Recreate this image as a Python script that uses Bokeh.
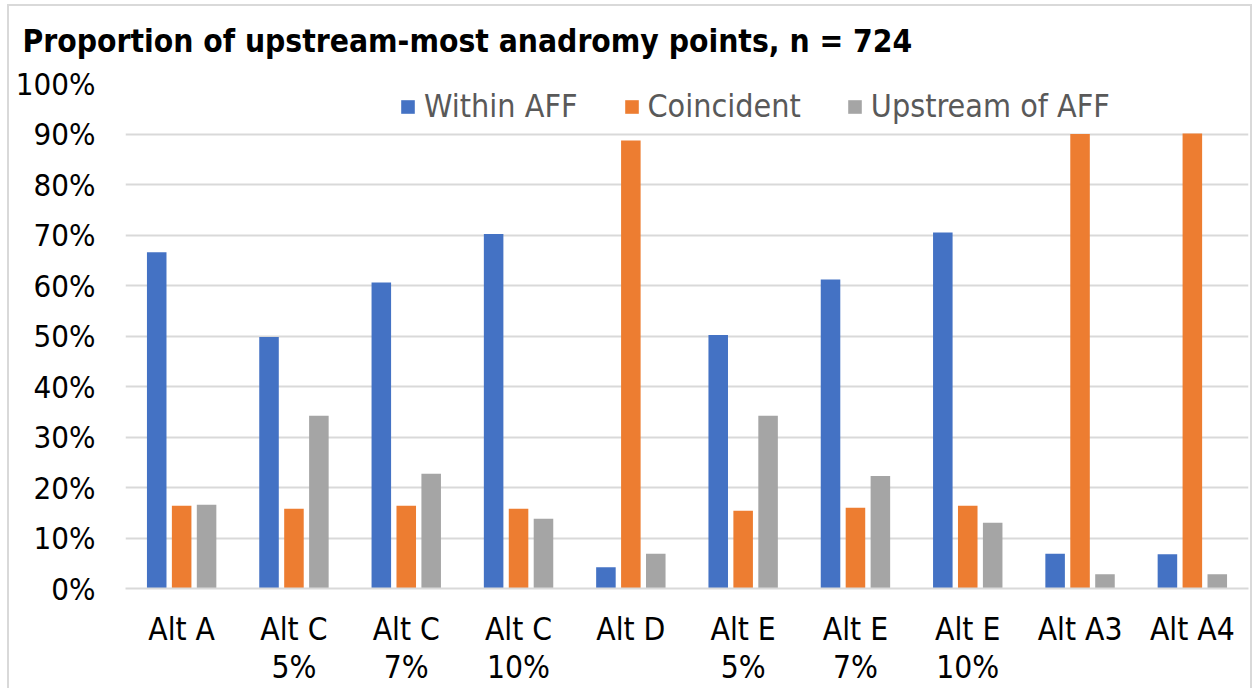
from bokeh.plotting import figure
from bokeh.models import (ColumnDataSource, FactorRange, Range1d, NumeralTickFormatter, FixedTicker,
                          Legend, LegendItem)
from bokeh.transform import dodge
from bokeh.embed import file_html
from bokeh.resources import INLINE

categories = ["Alt A", "Alt C\n5%", "Alt C\n7%", "Alt C\n10%", "Alt D",
              "Alt E\n5%", "Alt E\n7%", "Alt E\n10%", "Alt A3", "Alt A4"]
within_aff = [66.6, 49.8, 60.6, 70.2, 4.2, 50.2, 61.2, 70.5, 6.9, 6.8]
coincident = [16.4, 15.8, 16.4, 15.8, 88.7, 15.4, 16.0, 16.4, 90.0, 90.1]
upstream_aff = [16.6, 34.2, 22.7, 13.8, 6.9, 34.2, 22.3, 13.0, 2.8, 2.8]
series_names = ["Within AFF", "Coincident", "Upstream of AFF"]
y_ticks = [0, 0.1, 0.2, 0.3, 0.4, 0.5, 0.6, 0.7, 0.8, 0.9, 1.0]

FONT = "DejaVu Sans Condensed"

source = ColumnDataSource(dict(
    cat=categories,
    within=[v / 100 for v in within_aff],
    coin=[v / 100 for v in coincident],
    up=[v / 100 for v in upstream_aff],
))

g = "linear-gradient(#D9D9D9, #D9D9D9)"
chart_border = (f"{g} 7px 4px / 2px 100% no-repeat, "
                f"{g} 7px 4px / 1244px 2px no-repeat, "
                f"{g} 1250px 4px / 2px 100% no-repeat, #FFFFFF")

p = figure(x_range=FactorRange(*categories), y_range=Range1d(0, 1),
           width=1253, height=688, output_backend="svg", toolbar_location=None,
           min_border_left=125, min_border_right=5, min_border_top=82, min_border_bottom=100,
           styles={"background": chart_border})

p.title.text = "Proportion of upstream-most anadromy points, n = 724"
p.title.text_font = FONT
p.title.text_font_style = "bold"
p.title.text_font_size = "31.5px"
p.title.text_color = "#000000"
p.title.align = "left"
p.title.offset = -103
p.title.vertical_align = "top"
p.title.standoff = 45

w = 0.174
off = 0.222
r1 = p.vbar(x=dodge("cat", -off, range=p.x_range), top="within", width=w, source=source,
            fill_color="#4472C4", line_color=None)
r2 = p.vbar(x=dodge("cat", 0, range=p.x_range), top="coin", width=w, source=source,
            fill_color="#ED7D31", line_color=None)
r3 = p.vbar(x=dodge("cat", off, range=p.x_range), top="up", width=w, source=source,
            fill_color="#A5A5A5", line_color=None)

legend = Legend(items=[LegendItem(label=series_names[0], renderers=[r1]),
                       LegendItem(label=series_names[1], renderers=[r2]),
                       LegendItem(label=series_names[2], renderers=[r3])],
                orientation="horizontal", location=(274, 463),
                glyph_width=17, glyph_height=17, label_height=38, label_standoff=8, spacing=45,
                padding=0, margin=0, border_line_alpha=0, background_fill_alpha=0,
                label_text_font=FONT, label_text_font_size="32px", label_text_color="#595959")
p.add_layout(legend, "center")

p.yaxis.ticker = FixedTicker(ticks=y_ticks)
p.yaxis.formatter = NumeralTickFormatter(format="0%")
p.yaxis.axis_line_color = None
p.yaxis.major_tick_line_color = None
p.yaxis.minor_tick_line_color = None
p.yaxis.major_tick_in = 0
p.yaxis.major_tick_out = 0
p.yaxis.major_label_standoff = 30
p.yaxis.major_label_text_font = FONT
p.yaxis.major_label_text_font_size = "31px"
p.yaxis.major_label_text_color = "#000000"

p.xaxis.axis_line_color = "#D9D9D9"
p.xaxis.axis_line_width = 2
p.xaxis.major_tick_line_color = None
p.xaxis.minor_tick_line_color = None
p.xaxis.major_tick_in = 0
p.xaxis.major_tick_out = 0
p.xaxis.major_label_standoff = 22
p.xaxis.major_label_text_font = FONT
p.xaxis.major_label_text_font_size = "31.5px"
p.xaxis.major_label_text_line_height = 1.06
p.xaxis.major_label_text_color = "#000000"

p.xgrid.grid_line_color = None
p.ygrid.grid_line_color = "#D9D9D9"
p.ygrid.grid_line_width = 2
p.ygrid.ticker = FixedTicker(ticks=y_ticks)
p.outline_line_color = None
p.background_fill_color = "#FFFFFF"
p.border_fill_alpha = 0
p.x_range.range_padding = 0
p.x_range.group_padding = 0

open("out.html", "w").write(file_html(p, INLINE))
